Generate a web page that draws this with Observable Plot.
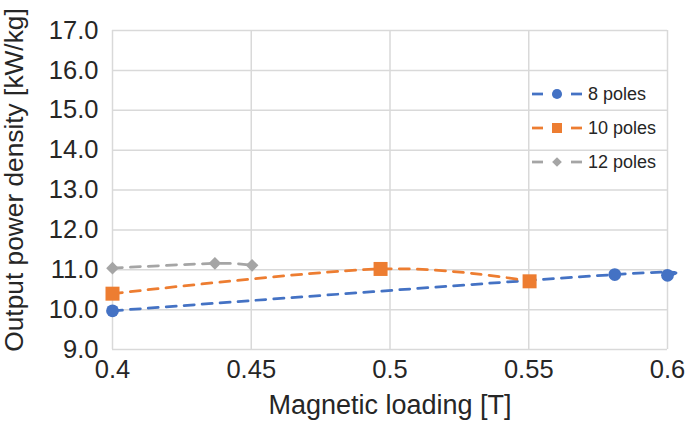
<!DOCTYPE html>
<html>
<head>
<meta charset="utf-8">
<script src="https://cdn.jsdelivr.net/npm/d3@7"></script>
<script src="https://cdn.jsdelivr.net/npm/@observablehq/plot@0.6"></script>
<style>
  html, body { margin: 0; padding: 0; background: #fff; }
  #chart svg { display: block; }
</style>
</head>
<body>
<div id="chart"></div>
<script>
// ---- Data ----
const seriesNames = ["8 poles", "10 poles", "12 poles"];
const seriesColors = ["#4472C4", "#ED7D31", "#A5A5A5"];
const seriesSymbols = ["circle", "square", "diamond2"];

const x8 = [0.4, 0.581, 0.6];
const y8 = [9.97, 10.88, 10.86];
const x10 = [0.4, 0.4966, 0.5503];
const y10 = [10.40, 11.02, 10.71];
const x12 = [0.4, 0.4369, 0.4503];
const y12 = [11.04, 11.16, 11.11];

const xTicks = [0.4, 0.45, 0.5, 0.55, 0.6];
const xTickLabels = ["0.4", "0.45", "0.5", "0.55", "0.6"];
const yTicks = [9, 10, 11, 12, 13, 14, 15, 16, 17];

const xTitle = "Magnetic loading [T]";
const yTitle = "Output power density [kW/kg]";

// tidy table
const allX = [x8, x10, x12];
const allY = [y8, y10, y12];
const rows = [];
seriesNames.forEach((s, i) => {
  allX[i].forEach((x, j) => rows.push({series: s, x, y: allY[i][j]}));
});

const font = "'Liberation Sans', Arial, sans-serif";
const textColor = "#262626";
const gridColor = "#d9d9d9";

const marks = [
  Plot.ruleX(xTicks, {stroke: gridColor, strokeWidth: 1.5}),
  Plot.ruleY(yTicks, {stroke: gridColor, strokeWidth: 1.5}),
  Plot.axisX(xTicks, {tickSize: 0, tickPadding: 10, fontSize: 25.5, fill: textColor, label: null,
    tickFormat: (d) => xTickLabels[xTicks.indexOf(d)]}),
  Plot.axisY(yTicks, {tickSize: 0, tickPadding: 14, fontSize: 25.5, fill: textColor, label: null,
    tickFormat: d3.format(".1f")}),
];
seriesNames.forEach((s, i) => {
  marks.push(Plot.line(rows.filter(r => r.series === s), {
    x: "x", y: "y", stroke: seriesColors[i], strokeWidth: 2.75,
    strokeDasharray: "10,8", curve: d3.curveCardinal.tension(0)
  }));
});
const rSizes = [6.4, 7.9, 5.7];
seriesNames.forEach((s, i) => {
  marks.push(Plot.dot(rows.filter(r => r.series === s), {
    x: "x", y: "y", fill: seriesColors[i], stroke: "none",
    symbol: seriesSymbols[i], r: rSizes[i]
  }));
});
marks.push(Plot.text([xTitle], {frameAnchor: "bottom", dy: 56, text: d => d,
  fontSize: 27, fill: textColor, lineAnchor: "middle", textAnchor: "middle"}));
marks.push(Plot.text([yTitle], {frameAnchor: "left", dx: -98, dy: -10, rotate: -90, text: d => d,
  fontSize: 26.3, fill: textColor, lineAnchor: "middle", textAnchor: "middle"}));

const plot = Plot.plot({
  width: 685,
  height: 424,
  marginLeft: 112,
  marginRight: 18,
  marginTop: 30,
  marginBottom: 75,
  style: {fontFamily: font, background: "#fff", overflow: "visible"},
  x: {domain: [0.4, 0.6]},
  y: {domain: [9, 17]},
  marks
});

// ---- Legend (inside plot) ----
const svg = d3.select(plot);
const legendRows = [94, 128, 162];
const legendSymbols = [d3.symbolCircle, d3.symbolSquare, d3.symbolDiamond2];
const legendSizes = [80, 100, 60];
const lg = svg.append("g").attr("font-family", font).attr("text-anchor", "start");
seriesNames.forEach((s, i) => {
  const y = legendRows[i];
  lg.append("line").attr("x1", 532).attr("x2", 543).attr("y1", y).attr("y2", y)
    .attr("stroke", seriesColors[i]).attr("stroke-width", 2.75);
  lg.append("line").attr("x1", 571).attr("x2", 582).attr("y1", y).attr("y2", y)
    .attr("stroke", seriesColors[i]).attr("stroke-width", 2.75);
  lg.append("path").attr("d", d3.symbol(legendSymbols[i], legendSizes[i])())
    .attr("transform", `translate(557,${y})`).attr("fill", seriesColors[i]);
  lg.append("text").attr("x", 588).attr("y", y).attr("dy", "0.35em")
    .attr("text-anchor", "start")
    .attr("font-size", 18).attr("fill", textColor).text(s);
});

document.getElementById("chart").appendChild(plot);
</script>
</body>
</html>
